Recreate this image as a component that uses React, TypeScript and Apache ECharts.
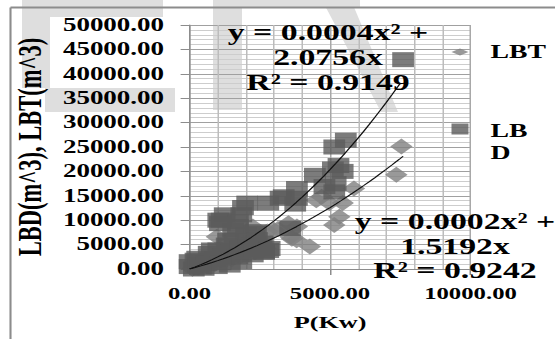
import React, { useEffect, useRef } from "react";
import * as echarts from "echarts";

// ---- data ----
const lbdPoints: number[][] = [
  [7600, 42900], [5560, 26400], [5150, 25000], [5300, 21200], [5100, 20500],
  [5450, 20000], [5200, 17500], [5150, 15800], [4800, 16900], [4460, 19200],
  [3820, 16500], [3820, 14500], [3350, 14800], [3240, 14500], [3760, 13300],
  [2800, 13500], [2050, 13500], [1900, 12600], [1250, 11100], [1840, 11100],
  [1020, 10000], [1140, 10000], [1720, 9700], [3580, 8300], [1720, 8700],
  [1550, 8000], [2300, 7300], [2540, 4600], [2650, 3400], [1370, 5900],
  [0, 1500], [270, 2200], [680, 3200], [1020, 3900], [1320, 4900],
  [1600, 5900], [2010, 7000], [2360, 7650], [2600, 5300], [2650, 3550],
  [2250, 2900], [1840, 1500], [1430, 800], [970, 500], [500, 150],
  [150, 0], [0, 500], [210, 1800], [790, 3900], [300, 800],
  [600, 1200], [900, 2000], [1200, 2700], [1500, 3500], [1800, 4300],
  [2100, 5000], [2400, 6000], [1700, 2500], [2000, 3500], [1100, 1300],
  [400, 400], [2300, 4000], [2850, 4200], [2800, 3800], [1080, 9300],
];

const lbtPoints: number[][] = [
  [7540, 25100], [7360, 19300], [5850, 16500], [5450, 13500], [4980, 13500],
  [5330, 10700], [5150, 9000], [4510, 14100], [4700, 14800], [4280, 4600],
  [3590, 6600], [3820, 8700], [3640, 6200], [3520, 9400], [3000, 8000],
  [2770, 7700], [2250, 8700], [970, 6600], [3810, 5900], [3150, 8200],
  [100, 50], [300, 300], [600, 600], [900, 1000], [1200, 1500],
  [1500, 2000], [1800, 2600], [2100, 3000], [2400, 3600], [2700, 4200],
  [1300, 3500], [2000, 5500], [1600, 4000], [2600, 6500],
];

// trendline coefficients shown on the chart: y = a x^2 + b x
const lbdTrend = [0.0004, 2.0756];
const lbtTrend = [0.0002, 1.5192];
const trendXs = [
  0, 200, 400, 600, 800, 1000, 1200, 1400, 1600, 1800, 2000, 2200, 2400, 2600,
  2800, 3000, 3200, 3400, 3600, 3800, 4000, 4200, 4400, 4600, 4800, 5000, 5200,
  5400, 5600, 5800, 6000, 6200, 6400, 6600, 6800, 7000, 7200, 7400, 7500, 7600,
];

const lbdLabel = ["y = 0.0004x² +", "2.0756x", "R² = 0.9149"];
const lbtLabel = ["y = 0.0002x² +", "1.5192x", "R² = 0.9242"];

const xTicks = { min: 0, max: 10000, interval: 5000 };
const yTicks = { min: 0, max: 50000, interval: 5000 };

const S = 1.5; // horizontal stretch of the original picture
const W = 555 / S;
const H = 339;
const FONT = "'Liberation Serif', 'Times New Roman', serif";

export default function App() {
  const ref = useRef<HTMLDivElement>(null);

  useEffect(() => {
    if (!ref.current) return;
    const chart = echarts.init(ref.current, undefined, { renderer: "svg" });

    const trend = (c: number[], maxX: number) =>
      trendXs.filter((x) => x <= maxX).map((x) => [x, c[0] * x * x + c[1] * x]);

    const wm = "#dedede";
    const gridLeft = 184 / S;
    const gridRight = 470.5 / S;

    chart.setOption({
      animation: false,
      grid: { left: gridLeft, top: 25, width: gridRight - gridLeft, height: 244 },
      xAxis: {
        type: "value",
        min: xTicks.min,
        max: xTicks.max,
        interval: xTicks.interval,
        name: "P(Kw)",
        nameLocation: "middle",
        nameGap: 44,
        nameTextStyle: { fontFamily: FONT, fontWeight: "bold", fontSize: 17.5, color: "#000" },
        axisLine: { show: true, lineStyle: { color: "#8c8c8c", width: 1 } },
        axisTick: { show: true, length: 6, lineStyle: { color: "#8c8c8c" } },
        axisLabel: {
          formatter: (v: number) => v.toFixed(2),
          fontFamily: FONT,
          fontWeight: "bold",
          fontSize: 16.5,
          color: "#000",
          margin: 16.5,
        },
        splitLine: { show: true, lineStyle: { color: "#a8a8a8", width: 1 } },
        minorTick: { show: false, splitNumber: 5 },
        minorSplitLine: { show: true, lineStyle: { color: "#bcbcbc", width: 1 } },
      },
      yAxis: {
        type: "value",
        min: yTicks.min,
        max: yTicks.max,
        interval: yTicks.interval,
        name: "LBD(m^3), LBT(m^3)",
        nameLocation: "middle",
        nameGap: 83,
        nameTextStyle: { fontFamily: FONT, fontWeight: "bold", fontSize: 22.5, color: "#000" },
        axisLine: { show: true, lineStyle: { color: "#8c8c8c", width: 1 } },
        axisTick: { show: true, length: 6, lineStyle: { color: "#8c8c8c" } },
        axisLabel: {
          formatter: (v: number) => v.toFixed(2),
          fontFamily: FONT,
          fontWeight: "bold",
          fontSize: 18,
          color: "#000",
          margin: 17,
        },
        splitLine: { show: true, lineStyle: { color: "#a0a0a0", width: 1 } },
        minorTick: { show: false, splitNumber: 5 },
        minorSplitLine: { show: true, lineStyle: { color: "#cdcdcd", width: 1 } },
      },
      legend: [
        {
          data: [
            {
              name: "LBT",
              icon: "path://M0,3.5L5.65,0L11.3,3.5L5.65,7ZM20.99,6.99L21,6.99L21,7L20.99,7Z",
            },
          ],
          left: 301,
          top: 42.5,
          padding: 0,
          itemWidth: 21,
          itemHeight: 7,
          selectedMode: false,
          textStyle: { fontFamily: FONT, fontWeight: "bold", fontSize: 18.5, color: "#000" },
        },
        {
          data: [
            {
              name: "LBD",
              icon: "path://M0,0L11.3,0L11.3,11L0,11ZM20.99,36.99L21,36.99L21,37L20.99,37Z",
            },
          ],
          left: 301,
          top: 120,
          padding: 0,
          itemWidth: 21,
          itemHeight: 37,
          selectedMode: false,
          formatter: (name: string) => (name === "LBD" ? "LB\nD" : name),
          textStyle: {
            fontFamily: FONT,
            fontWeight: "bold",
            fontSize: 18.5,
            lineHeight: 22,
            color: "#000",
          },
        },
      ],
      series: [
        {
          name: "LBT",
          type: "scatter",
          data: lbtPoints,
          symbol: "diamond",
          symbolSize: [15, 16],
          clip: false,
          itemStyle: { color: "#808080" },
          z: 2,
        },
        {
          name: "LBD",
          type: "scatter",
          data: lbdPoints,
          symbol: "rect",
          symbolSize: [14.5, 15],
          clip: false,
          itemStyle: { color: "#5b5b5b" },
          z: 3,
        },
        {
          name: "LBD trend",
          type: "line",
          data: trend(lbdTrend, 7500),
          showSymbol: false,
          symbol: "none",
          silent: true,
          lineStyle: { color: "#111", width: 1 },
          z: 4,
        },
        {
          name: "LBT trend",
          type: "line",
          data: trend(lbtTrend, 7600),
          showSymbol: false,
          symbol: "none",
          silent: true,
          lineStyle: { color: "#111", width: 1 },
          z: 4,
        },
      ],
      graphic: [
        // faint watermark
        { type: "rect", z: -10, shape: { x: 22 / S, y: 0, width: (163 - 22) / S, height: 17 }, style: { fill: wm } },
        { type: "rect", z: -10, shape: { x: 22 / S, y: 17, width: 28 / S, height: 71 }, style: { fill: wm } },
        { type: "rect", z: -10, shape: { x: 45 / S, y: 88, width: 130 / S, height: 24 }, style: { fill: wm } },
        { type: "rect", z: -10, shape: { x: 213 / S, y: 0, width: 29 / S, height: 110 }, style: { fill: wm } },
        { type: "rect", z: -10, shape: { x: 213 / S, y: 0, width: 147 / S, height: 7 }, style: { fill: wm } },
        {
          type: "polygon",
          z: -10,
          shape: { points: [[322 / S, 0], [351 / S, 0], [398 / S, 112], [381 / S, 112]] },
          style: { fill: wm },
        },
        // frame
        { type: "line", z: -5, shape: { x1: 10.5 / S, y1: 7.5, x2: 10.5 / S, y2: H }, style: { stroke: "#8c8c8c", lineWidth: 1.4 } },
        { type: "line", z: -5, shape: { x1: 10.5 / S, y1: 7.5, x2: W, y2: 7.5 }, style: { stroke: "#8c8c8c", lineWidth: 2 } },
        // trendline equations
        {
          type: "text",
          z: 10,
          x: 328 / S,
          y: 57.5,
          style: {
            text: lbdLabel.join("\n"),
            font: `bold 22.5px ${FONT}`,
            fill: "#000",
            align: "center",
            verticalAlign: "middle",
            lineHeight: 25,
          },
        },
        {
          type: "text",
          z: 10,
          x: 455 / S,
          y: 246,
          style: {
            text: lbtLabel.join("\n"),
            font: `bold 22.5px ${FONT}`,
            fill: "#000",
            align: "center",
            verticalAlign: "middle",
            lineHeight: 24.5,
          },
        },
      ],
    });

    return () => chart.dispose();
  }, []);

  return (
    <div
      style={{
        position: "fixed",
        left: 0,
        top: 0,
        width: 555,
        height: 339,
        overflow: "hidden",
        background: "#fff",
      }}
    >
      <div
        ref={ref}
        style={{
          width: W,
          height: H,
          transform: `scaleX(${S})`,
          transformOrigin: "0 0",
        }}
      />
    </div>
  );
}
